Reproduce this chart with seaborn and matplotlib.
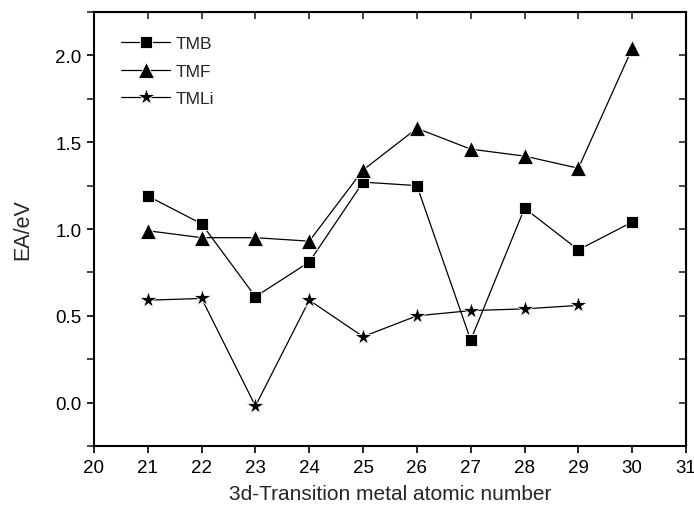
import matplotlib.pyplot as plt
import numpy as np
import pandas as pd
import seaborn as sns
from matplotlib.ticker import MultipleLocator

# --- dane ---
Z_TMB = [21, 22, 23, 24, 25, 26, 27, 28, 29, 30]
EA_TMB = [1.19, 1.03, 0.61, 0.81, 1.27, 1.25, 0.36, 1.12, 0.88, 1.04]

Z_TMF = [21, 22, 23, 24, 25, 26, 27, 28, 29, 30]
EA_TMF = [0.99, 0.95, 0.95, 0.93, 1.34, 1.58, 1.46, 1.42, 1.35, 2.04]

Z_TMLI = [21, 22, 23, 24, 25, 26, 27, 28, 29]
EA_TMLI = [0.59, 0.60, -0.02, 0.59, 0.38, 0.50, 0.53, 0.54, 0.56]

SERIES = ["TMB", "TMF", "TMLi"]
MARKERS = {"TMB": "s", "TMF": "^", "TMLi": "*"}
SIZES = {"TMB": 8.5, "TMF": 11, "TMLi": 13}

df = pd.concat([
    pd.DataFrame({"Z": Z_TMB, "EA": EA_TMB, "series": "TMB"}),
    pd.DataFrame({"Z": Z_TMF, "EA": EA_TMF, "series": "TMF"}),
    pd.DataFrame({"Z": Z_TMLI, "EA": EA_TMLI, "series": "TMLi"}),
])

sns.set_style("ticks")
plt.rcParams["font.family"] = ["Liberation Sans", "DejaVu Sans"]

fig = plt.figure(figsize=(6.94, 5.10), dpi=100)
ax = fig.add_axes([0.1354, 0.1235, 0.8531, 0.851])

for name in SERIES:
    sub = df[df["series"] == name]
    sns.lineplot(
        data=sub, x="Z", y="EA", ax=ax, color="black", linewidth=0.9,
        marker=MARKERS[name], markersize=SIZES[name], markeredgecolor="white",
        markeredgewidth=0.6, label=name, sort=False,
    )

ax.set_xlim(20, 31)
ax.set_ylim(-0.25, 2.25)
ax.xaxis.set_major_locator(MultipleLocator(1))
ax.yaxis.set_major_locator(MultipleLocator(0.5))
ax.yaxis.set_minor_locator(MultipleLocator(0.25))
ax.yaxis.set_major_formatter(plt.FormatStrFormatter("%.1f"))

for side in ["left", "right", "top", "bottom"]:
    ax.spines[side].set_visible(True)
    ax.spines[side].set_linewidth(1.5)
    ax.spines[side].set_color("black")

ax.tick_params(axis="both", which="major", direction="out", length=5, width=1.2,
               labelsize=13.5, colors="black", pad=4)
ax.tick_params(axis="y", which="minor", direction="out", length=5, width=1.2)

# górna i prawa oś: znaczniki do środka
sec_x = ax.secondary_xaxis("top")
sec_x.xaxis.set_major_locator(MultipleLocator(1))
sec_x.tick_params(direction="in", length=5, width=1.2, labeltop=False)
sec_y = ax.secondary_yaxis("right")
sec_y.yaxis.set_major_locator(MultipleLocator(0.5))
sec_y.yaxis.set_minor_locator(MultipleLocator(0.25))
sec_y.tick_params(which="both", direction="in", length=5, width=1.2, labelright=False)
ax.tick_params(top=False, right=False, which="both")

ax.set_xlabel("3d-Transition metal atomic number", fontsize=15, labelpad=6)
ax.set_ylabel("EA/eV", fontsize=15.5, labelpad=16)

ax.legend(loc="upper left", bbox_to_anchor=(0.02, 0.98), frameon=False,
          fontsize=12.5, handlelength=2.8, labelspacing=0.7, handletextpad=0.35)

fig.savefig("out.png", dpi=100)
plt.close(fig)
